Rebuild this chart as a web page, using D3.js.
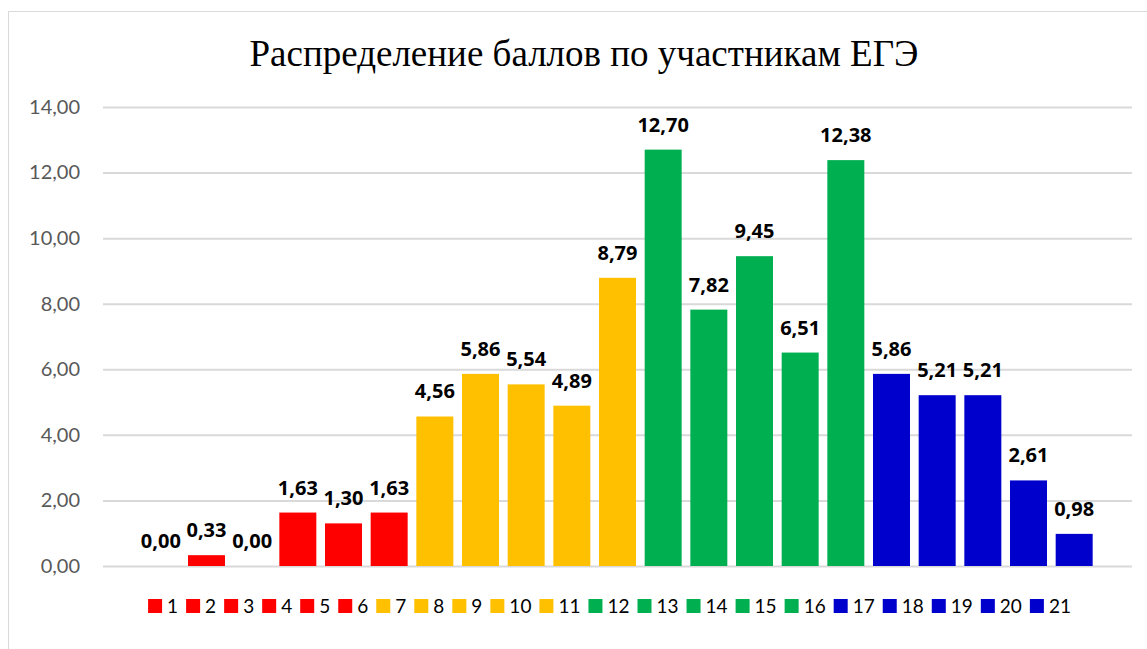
<!DOCTYPE html>
<html>
<head>
<meta charset="utf-8">
<script src="https://cdn.jsdelivr.net/npm/d3@7"></script>
<style>
  body { margin: 0; background: #fff; }
</style>
</head>
<body>
<script>
const categories = ['1','2','3','4','5','6','7','8','9','10','11','12','13','14','15','16','17','18','19','20','21'];
const values = [0.00, 0.33, 0.00, 1.63, 1.30, 1.63, 4.56, 5.86, 5.54, 4.89, 8.79, 12.70, 7.82, 9.45, 6.51, 12.38, 5.86, 5.21, 5.21, 2.61, 0.98];
const groups = ['r','r','r','r','r','r','y','y','y','y','y','g','g','g','g','g','b','b','b','b','b'];
const yTicks = [0, 2, 4, 6, 8, 10, 12, 14];
const title = 'Распределение баллов по участникам ЕГЭ';

const colors = { r: '#FF0000', y: '#FFC000', g: '#00B050', b: '#0000CC' };
const fmt = v => v.toFixed(2).replace('.', ',');
const width = 1147, height = 649;

const svg = d3.select('body').append('svg')
  .attr('width', width)
  .attr('height', height);

// chart frame
svg.append('rect')
  .attr('x', 8.5).attr('y', 11.5)
  .attr('width', 1160).attr('height', 660)
  .attr('fill', '#fff')
  .attr('stroke', '#d9d9d9');

svg.append('text')
  .attr('x', 584).attr('y', 66)
  .attr('text-anchor', 'middle')
  .attr('font-family', '"Liberation Serif", "Times New Roman", serif')
  .attr('font-size', 37)
  .attr('fill', '#000')
  .text(title);

const gridLeft = 103, gridRight = 1132;
const y = d3.scaleLinear().domain([0, 14]).range([566, 107]);
const x = d3.scaleBand().domain(categories).range([138, 1097]).paddingInner(0.19).paddingOuter(0.095);

const yAxis = svg.append('g')
  .attr('transform', `translate(${gridLeft},0)`)
  .call(d3.axisLeft(y).tickValues(yTicks).tickSize(-(gridRight - gridLeft)).tickPadding(23).tickFormat(fmt));
yAxis.select('.domain').remove();
yAxis.selectAll('line').attr('stroke', '#d9d9d9').attr('stroke-width', 2);
yAxis.selectAll('text')
  .attr('font-family', 'Lato, "Open Sans", sans-serif')
  .attr('font-size', 20)
  .attr('fill', '#595959');

svg.append('g').selectAll('rect')
  .data(values)
  .join('rect')
  .attr('x', (d, i) => x(categories[i]))
  .attr('y', d => y(d))
  .attr('width', x.bandwidth())
  .attr('height', d => y(0) - y(d))
  .attr('fill', (d, i) => colors[groups[i]]);

svg.append('g').selectAll('text')
  .data(values)
  .join('text')
  .attr('x', (d, i) => x(categories[i]) + x.bandwidth() / 2)
  .attr('y', d => y(d) - 18)
  .attr('text-anchor', 'middle')
  .attr('font-family', '"Open Sans", Lato, sans-serif')
  .attr('font-weight', 'bold')
  .attr('font-size', 20)
  .attr('fill', '#000')
  .text(fmt);

// legend
const legend = svg.append('g');
const items = legend.selectAll('g')
  .data(categories)
  .join('g');
items.append('rect')
  .attr('width', 14).attr('height', 14)
  .attr('y', -14)
  .attr('fill', (d, i) => colors[groups[i]]);
items.append('text')
  .attr('x', 19)
  .attr('font-family', 'Lato, "Open Sans", sans-serif')
  .attr('font-size', 19)
  .attr('fill', '#000')
  .text(d => d);
let cx = 0;
items.each(function () {
  const w = this.getBBox().width;
  d3.select(this).attr('transform', `translate(${cx},0)`);
  cx += w + 8;
});
const legendW = cx - 8;
legend.attr('transform', `translate(${(146 + 1073) / 2 - legendW / 2},613)`);
</script>
</body>
</html>
